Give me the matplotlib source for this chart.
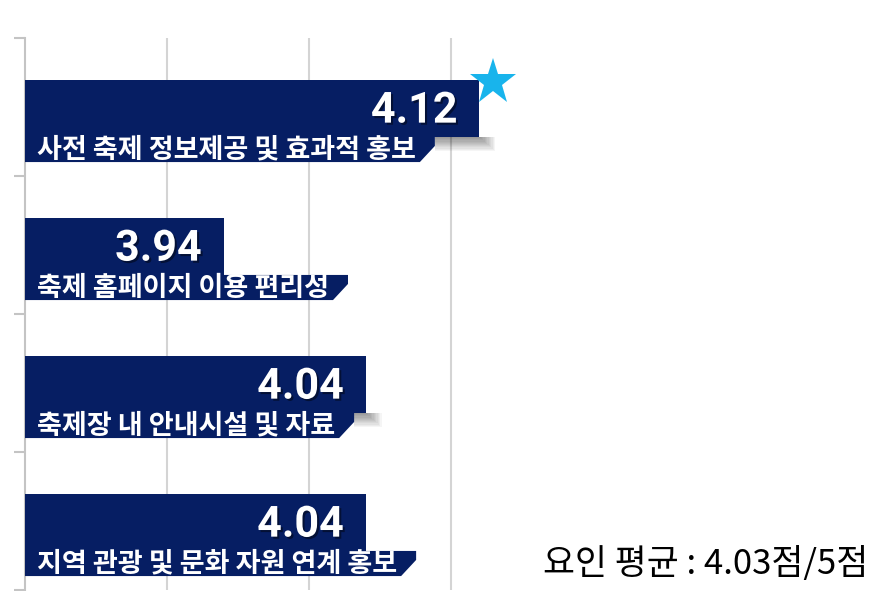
import matplotlib

matplotlib.use("Agg")
import matplotlib.patheffects as pe
import matplotlib.pyplot as plt
from matplotlib.patches import Polygon, Rectangle

plt.rcParams["font.family"] = ["Noto Sans CJK KR", "DejaVu Sans"]

# ──────────────────────────────────────────────────────────────────────────────
# Data
# ──────────────────────────────────────────────────────────────────────────────

categories = [
    "사전 축제 정보제공 및 효과적 홍보",
    "축제 홈페이지 이용 편리성",
    "축제장 내 안내시설 및 자료",
    "지역 관광 및 문화 자원 연계 홍보",
]
scores = [4.12, 3.94, 4.04, 4.04]
value_labels = ["4.12", "3.94", "4.04", "4.04"]
summary_text = "요인 평균 : 4.03점/5점"

# ──────────────────────────────────────────────────────────────────────────────
# Style
# ──────────────────────────────────────────────────────────────────────────────

X_MIN, X_MAX = 3.8, 4.4
NAVY = "#061e63"
STAR_BLUE = "#18b4ec"
GRID_GREY = "#d4d4d4"
AXIS_GREY = "#c4c4c4"

# fractions of each category band
MAIN_TOP, MAIN_BOT, STRIP_BOT = 0.304, 0.717, 0.899

fig = plt.figure(figsize=(8.91, 5.91), dpi=100)
ax = fig.add_axes([25 / 891, 1 / 591, 852 / 891, 552 / 591])
ax.set_xlim(X_MIN, X_MAX)
ax.set_ylim(len(categories), 0)

fig.canvas.draw()
renderer = fig.canvas.get_renderer()
bb = ax.get_window_extent()
px_x = (X_MAX - X_MIN) / bb.width
px_y = len(categories) / bb.height

# main bars
centers = [i + (MAIN_TOP + MAIN_BOT) / 2 for i in range(len(categories))]
ax.barh(
    centers,
    [s - X_MIN for s in scores],
    left=X_MIN,
    height=MAIN_BOT - MAIN_TOP,
    color=NAVY,
    zorder=3,
)

inv = ax.transData.inverted()
for i, (cat, score, vlab) in enumerate(zip(categories, scores, value_labels)):
    main_bot = i + MAIN_BOT
    strip_bot = i + STRIP_BOT

    # category label on its own strip
    t = ax.text(
        X_MIN + 12 * px_x,
        i + 0.81,
        cat,
        color="white",
        fontsize=19.5,
        fontweight="bold",
        ha="left",
        va="center",
        zorder=6,
    )
    ext = t.get_window_extent(renderer=renderer)
    text_right = inv.transform((ext.x1, 0))[0]
    strip_right = text_right + 19 * px_x

    strip = Polygon(
        [
            (X_MIN, main_bot),
            (strip_right, main_bot),
            (strip_right, main_bot + 9 * px_y),
            (strip_right - 15 * px_x, strip_bot),
            (X_MIN, strip_bot),
        ],
        closed=True,
        facecolor=NAVY,
        edgecolor="none",
        zorder=4,
    )
    ax.add_patch(strip)

    # soft shadow under the bar where it sticks out past the strip
    if score > strip_right:
        n_layers = 12
        for k in range(n_layers):
            f = 1 - k / n_layers
            ax.add_patch(
                Rectangle(
                    (strip_right, main_bot),
                    (score - strip_right) + 16 * px_x * f,
                    14 * px_y * f,
                    facecolor="black",
                    edgecolor="none",
                    alpha=0.04,
                    zorder=2.5,
                )
            )

    # value
    ax.text(
        score - 22 * px_x,
        i + 0.53,
        vlab,
        color="white",
        fontsize=31,
        fontweight="bold",
        family=["Roboto", "DejaVu Sans"],
        ha="right",
        va="center",
        zorder=7,
        path_effects=[
            pe.withSimplePatchShadow(offset=(1.5, -1.5), shadow_rgbFace="black", alpha=0.45)
        ],
    )

# star on the highest score
best = max(range(len(scores)), key=lambda j: scores[j])
ax.plot(
    scores[best] + 14 * px_x,
    best + MAIN_TOP + 2 * px_y,
    marker="*",
    markersize=35,
    color=STAR_BLUE,
    markeredgewidth=0,
    zorder=8,
    clip_on=False,
)

# axes cosmetics
for side in ("top", "right", "bottom"):
    ax.spines[side].set_visible(False)
ax.spines["left"].set_color(AXIS_GREY)
ax.spines["left"].set_linewidth(1.5)
ax.set_yticks(range(len(categories) + 1))
ax.set_yticklabels([])
ax.tick_params(axis="y", length=8, width=1.5, color=AXIS_GREY)
ax.set_xticks([3.9, 4.0, 4.1])
ax.set_xticklabels([])
ax.tick_params(axis="x", length=0)
ax.grid(True, axis="x", color=GRID_GREY, linewidth=1.5, zorder=0)
ax.set_axisbelow(True)

fig.text(
    868 / 891,
    1 - 565 / 591,
    summary_text,
    ha="right",
    va="center",
    fontsize=25,
    color="black",
)

fig.savefig("out.png", dpi=100)
